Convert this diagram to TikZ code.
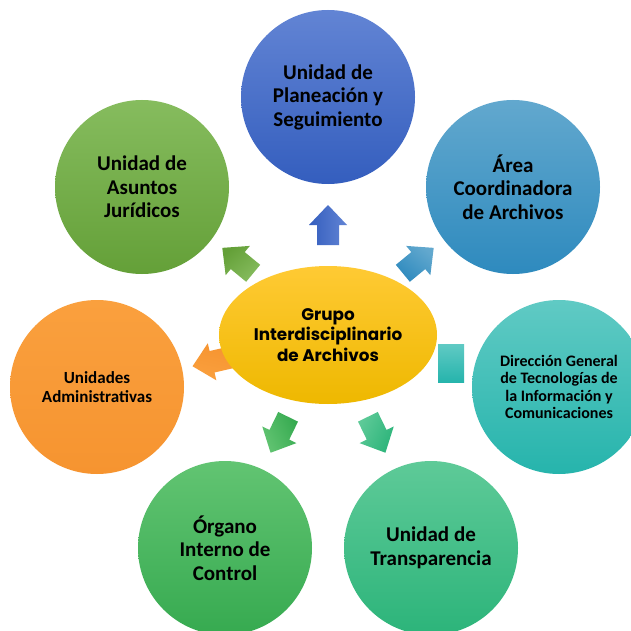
\documentclass[tikz,border=0pt]{standalone}
\usepackage{fontspec}
\setmainfont{Carlito}
\newfontfamily\geofont{Poppins}
\usetikzlibrary{shapes.geometric,calc}

% palette
\definecolor{blueT}{RGB}{98,132,212}
\definecolor{blueB}{RGB}{52,94,190}
\definecolor{ljgT}{RGB}{134,188,94}
\definecolor{ljgB}{RGB}{100,160,56}
\definecolor{acaT}{RGB}{98,168,206}
\definecolor{acaB}{RGB}{46,138,190}
\definecolor{tealT}{RGB}{96,202,196}
\definecolor{tealB}{RGB}{38,180,172}
\definecolor{orgT}{RGB}{250,160,62}
\definecolor{orgB}{RGB}{246,148,48}
\definecolor{oicT}{RGB}{98,196,114}
\definecolor{oicB}{RGB}{54,170,80}
\definecolor{trnT}{RGB}{94,202,152}
\definecolor{trnB}{RGB}{44,180,122}
\definecolor{gldT}{RGB}{255,202,52}
\definecolor{gldB}{RGB}{238,184,0}

\tikzset{
  unit/.style={circle, minimum size=174pt, inner sep=0pt, align=center,
    text=black, font=\bfseries\fontsize{21}{23.5}\selectfont},
  hub/.style={ellipse, minimum width=218pt, minimum height=138pt, inner sep=0pt,
    align=center, text=black, top color=gldT, bottom color=gldB,
    font=\geofont\bfseries\fontsize{16.8}{20.5}\selectfont},
  % block arrow pointing along local +x, tip at the origin
  blockarrow/.pic={
    \path[pic actions] (-40,-11) -- (-20,-11) -- (-20,-19) -- (0,0)
      -- (-20,19) -- (-20,11) -- (-40,11) -- cycle;
  },
  % #1 = direction (counter-clockwise, degrees), #2/#3 = light/dark colour
  spoke/.style n args={3}{rotate=#1, top color=#2, bottom color=#3,
    shading angle=-#1},
}

% one spoke arrow leaving the hub: direction, tip distance, colours
\newcommand\hubspoke[4]{%
  \pic[spoke={#1}{#3}{#4}] at ($(hubc)+(-#1:#2)$) {blockarrow};}

\begin{document}
\begin{tikzpicture}[x=1pt,y=-1pt]
\useasboundingbox (0,0) rectangle (631,631);
\clip (0,0) rectangle (631,631);
\fill[white] (0,0) rectangle (631,631);

\coordinate (hubc) at (328,335);

% block arrows leaving the hub
\hubspoke{90}{130}{blueT}{blueB}
\hubspoke{140.5}{137}{ljgT}{ljgB}
\hubspoke{39.5}{137}{acaT}{acaB}
\hubspoke{193}{139}{orgT}{orgB}
\hubspoke{244}{131}{oicT}{oicB}
\hubspoke{296}{131}{trnT}{trnB}

% short block towards the ICT unit
\node[rectangle, minimum width=26pt, minimum height=38pt, inner sep=0pt,
      top color=tealT, bottom color=tealB] (ictbar) at (451,363) {};

% surrounding units
\node[unit, top color=blueT, bottom color=blueB] (ups) at (328,97)
  {Unidad de\\Planeación y\\Seguimiento};
\node[unit, top color=ljgT, bottom color=ljgB] (uaj) at (142,187)
  {Unidad de\\Asuntos\\Jurídicos};
\node[unit, top color=acaT, bottom color=acaB] (aca) at (513,187)
  {Área\\Coordinadora\\de Archivos};
\node[unit, top color=tealT, bottom color=tealB,
      font=\bfseries\fontsize{16}{17.4}\selectfont] (dgtic) at (559,387)
  {Dirección General\\de Tecnologías de\\la Información y\\Comunicaciones};
\node[unit, top color=orgT, bottom color=orgB,
      font=\bfseries\fontsize{17}{19.5}\selectfont] (uad) at (97,387)
  {Unidades\\Administrativas};
\node[unit, top color=oicT, bottom color=oicB] (oic) at (225,548)
  {Órgano\\Interno de\\Control};
\node[unit, top color=trnT, bottom color=trnB] (utr) at (431,548)
  {Unidad de\\Transparencia};

% central group
\node[hub] (gia) at (hubc) {Grupo\\Interdisciplinario\\de Archivos};

\end{tikzpicture}
\end{document}
